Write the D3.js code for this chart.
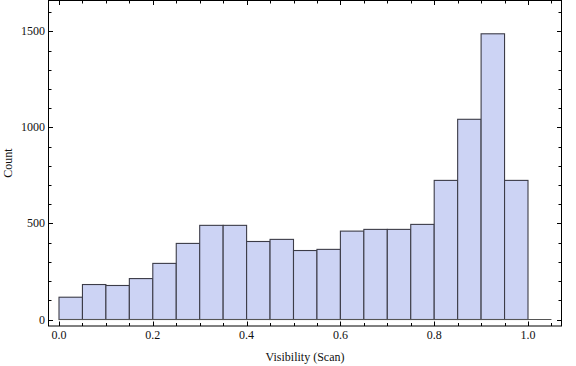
<!DOCTYPE html>
<html>
<head>
<meta charset="utf-8">
<script src="https://cdn.jsdelivr.net/npm/d3@7"></script>
<style>
  body { margin: 0; background: #fff; }
  text { font-family: "Liberation Serif", "DejaVu Serif", serif; fill: #111; }
</style>
</head>
<body>
<div id="chart"></div>
<script>
// histogram bins (start of each bin, width 0.05)
const binStarts = [0.00, 0.05, 0.10, 0.15, 0.20, 0.25, 0.30, 0.35, 0.40, 0.45,
                   0.50, 0.55, 0.60, 0.65, 0.70, 0.75, 0.80, 0.85, 0.90, 0.95];
const binWidth = 0.05;
const counts = [116, 182, 177, 213, 292, 396, 490, 490, 406, 417,
                359, 365, 460, 469, 469, 495, 724, 1042, 1487, 724];

const xTicks = [0, 0.2, 0.4, 0.6, 0.8, 1.0];
const yTicks = [0, 500, 1000, 1500];

const W = 576, H = 366;
// frame box
const box = { left: 48.5, right: 561.5, top: 0.5, bottom: 326 };

const svg = d3.select('#chart')
    .append('svg')
    .attr('width', W)
    .attr('height', H);

const x = d3.scaleLinear().domain([0, 1]).range([59, 528]);
const y = d3.scaleLinear().domain([0, 1500]).range([319.5, 31.3]);

// bars
svg.append('g')
    .selectAll('rect')
    .data(counts)
    .enter()
    .append('rect')
    .attr('x', (d, i) => x(binStarts[i]))
    .attr('y', d => y(d))
    .attr('width', (d, i) => x(binStarts[i] + binWidth) - x(binStarts[i]))
    .attr('height', d => y(0) - y(d))
    .attr('fill', 'rgb(204,211,244)')
    .attr('stroke', '#3c3c48')
    .attr('stroke-width', 1.1);

// zero axis line
svg.append('line')
    .attr('x1', x(0)).attr('x2', x(1.05))
    .attr('y1', y(0)).attr('y2', y(0))
    .attr('stroke', '#555')
    .attr('stroke-width', 1);

// frame
svg.append('rect')
    .attr('x', box.left)
    .attr('y', box.top)
    .attr('width', box.right - box.left)
    .attr('height', box.bottom - box.top)
    .attr('fill', 'none')
    .attr('stroke', '#000')
    .attr('stroke-width', 1);

// ticks, inward on all four sides
const xMinor = d3.range(0, 1.0501, 0.05).map(v => +v.toFixed(2));
const yMinor = d3.range(0, 1601, 100);
const ticks = svg.append('g').attr('stroke', '#000').attr('stroke-width', 1);

xMinor.forEach(v => {
    const len = xTicks.some(t => Math.abs(t - v) < 1e-6) ? 4.5 : 3;
    const px = Math.round(x(v)) + 0.5;
    ticks.append('line').attr('x1', px).attr('x2', px)
        .attr('y1', box.bottom).attr('y2', box.bottom - len);
    ticks.append('line').attr('x1', px).attr('x2', px)
        .attr('y1', box.top).attr('y2', box.top + len);
});
yMinor.forEach(v => {
    const len = yTicks.includes(v) ? 4.5 : 3;
    const py = Math.round(y(v)) + 0.5;
    ticks.append('line').attr('y1', py).attr('y2', py)
        .attr('x1', box.left).attr('x2', box.left + len);
    ticks.append('line').attr('y1', py).attr('y2', py)
        .attr('x1', box.right).attr('x2', box.right - len);
});

// tick labels
svg.append('g')
    .selectAll('text')
    .data(xTicks)
    .enter()
    .append('text')
    .attr('x', d => x(d))
    .attr('y', 338.5)
    .attr('text-anchor', 'middle')
    .style('font-size', '12px')
    .text(d => d3.format('.1f')(d));

svg.append('g')
    .selectAll('text')
    .data(yTicks)
    .enter()
    .append('text')
    .attr('x', 45)
    .attr('y', d => y(d) + 4)
    .attr('text-anchor', 'end')
    .style('font-size', '12px')
    .text(d => d);

// axis titles
svg.append('text')
    .attr('x', 305)
    .attr('y', 361)
    .attr('text-anchor', 'middle')
    .style('font-size', '12px')
    .text('Visibility (Scan)');

svg.append('text')
    .attr('transform', 'translate(12, 163) rotate(-90)')
    .attr('text-anchor', 'middle')
    .style('font-size', '12px')
    .text('Count');
</script>
</body>
</html>
